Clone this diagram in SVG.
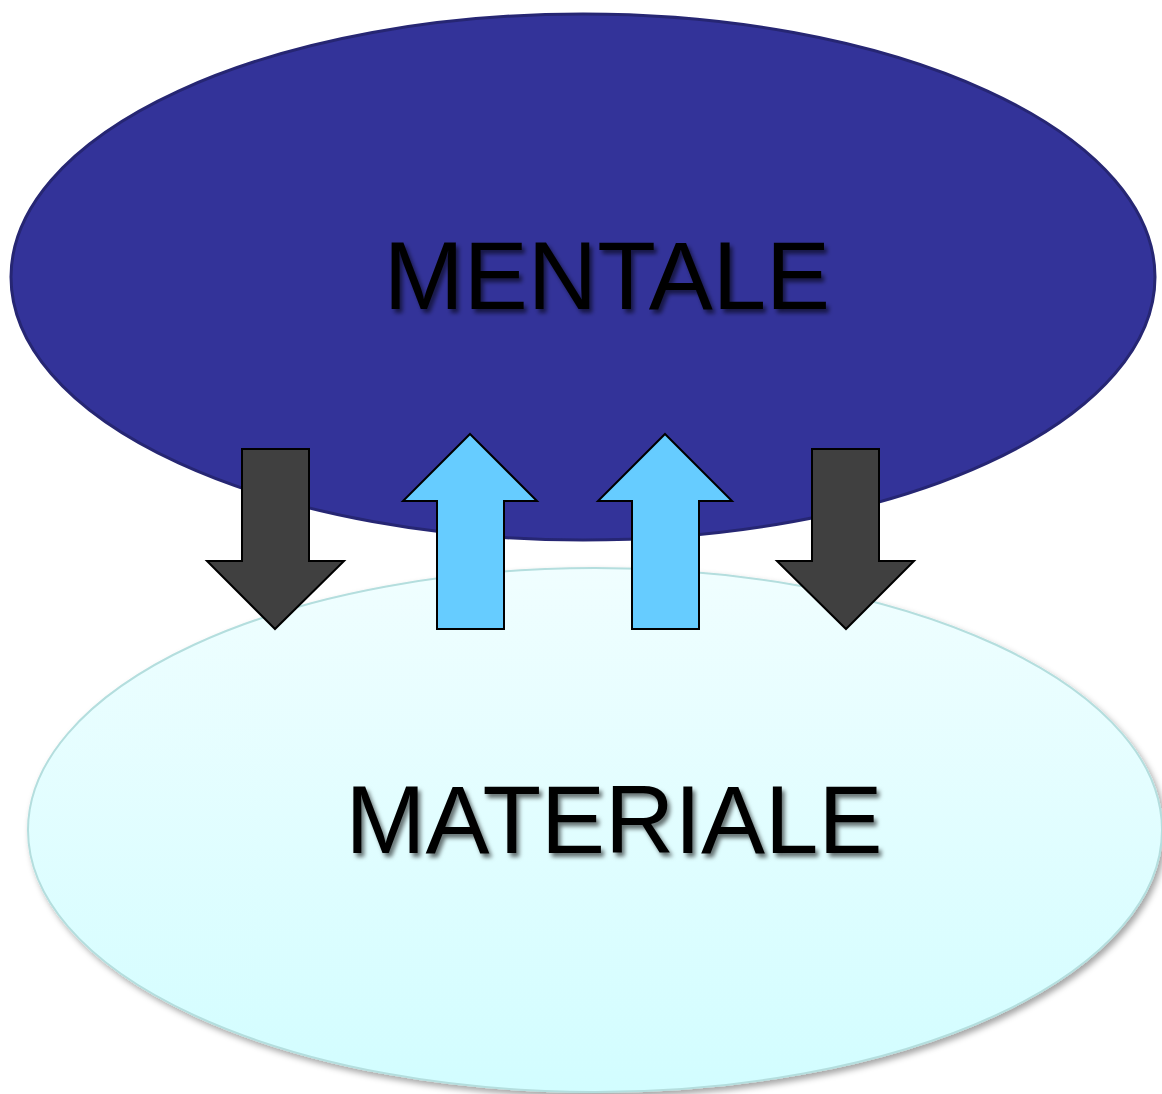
<svg xmlns="http://www.w3.org/2000/svg" width="1162" height="1094" viewBox="0 0 1162 1094">
<defs>
<linearGradient id="lightGrad" x1="0" y1="0" x2="0" y2="1">
<stop offset="0" stop-color="#f0feff"/>
<stop offset="1" stop-color="#d2fdff"/>
</linearGradient>
<filter id="txtShadow" x="-10%" y="-20%" width="130%" height="150%">
<feGaussianBlur in="SourceAlpha" stdDeviation="2"/>
<feOffset dx="3" dy="4" result="b"/>
<feFlood flood-color="#000" flood-opacity="0.55"/>
<feComposite in2="b" operator="in"/>
<feMerge><feMergeNode/><feMergeNode in="SourceGraphic"/></feMerge>
</filter>
<filter id="ellShadow" x="-5%" y="-5%" width="110%" height="115%">
<feGaussianBlur in="SourceAlpha" stdDeviation="3"/>
<feOffset dx="3" dy="4" result="b"/>
<feFlood flood-color="#000" flood-opacity="0.35"/>
<feComposite in2="b" operator="in"/>
<feMerge><feMergeNode/><feMergeNode in="SourceGraphic"/></feMerge>
</filter>
</defs>
<style>
.label{font-family:"Liberation Sans",Arial,sans-serif;font-size:96px;fill:#000;text-anchor:middle}
.down{fill:#404040;stroke:#000;stroke-width:2;stroke-linejoin:miter}
.up{fill:#66ccff;stroke:#000;stroke-width:2;stroke-linejoin:miter}
</style>
<rect width="1162" height="1094" fill="#fff"/>
<g id="materiale">
<ellipse cx="595" cy="830" rx="567" ry="262" fill="url(#lightGrad)" stroke="#b4dede" stroke-width="2" filter="url(#ellShadow)"/>
<text class="label" x="614" y="853" filter="url(#txtShadow)">MATERIALE</text>
</g>
<g id="mentale">
<ellipse cx="583" cy="277" rx="572" ry="263" fill="#333399" stroke="#262673" stroke-width="3"/>
<text class="label" x="607" y="309" filter="url(#txtShadow)">MENTALE</text>
</g>
<g id="connectors">
<polygon class="down" points="242,449 309,449 309,561 344,561 275,629 207,561 242,561"/>
<polygon class="up" points="470,434 537,501 504,501 504,629 437,629 437,501 403,501"/>
<polygon class="up" points="665,434 732,501 699,501 699,629 632,629 632,501 598,501"/>
<polygon class="down" points="812,449 879,449 879,561 914,561 846,629 777,561 812,561"/>
</g>
</svg>
